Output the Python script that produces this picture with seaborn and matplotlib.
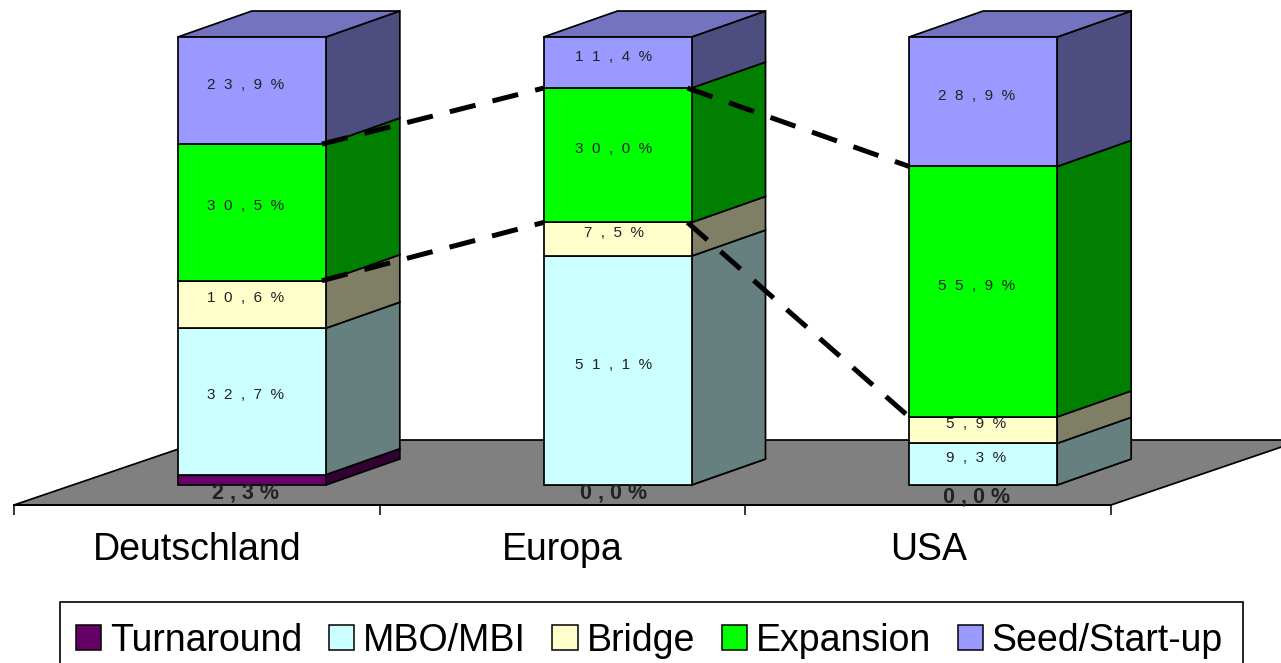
import matplotlib
matplotlib.use("Agg")
import matplotlib.pyplot as plt
from matplotlib.patches import Patch, Rectangle
import numpy as np
import pandas as pd
import seaborn as sns

# Werte aus dem Bild
laender = ["Deutschland", "Europa", "USA"]
serien = ["Turnaround", "MBO/MBI", "Bridge", "Expansion", "Seed/Start-up"]
turnaround = [2.3, 0.0, 0.0]
mbo_mbi = [32.7, 51.1, 9.3]
bridge = [10.6, 7.5, 5.9]
expansion = [30.5, 30.0, 55.9]
seed = [23.9, 11.4, 28.9]

farben = ["#660066", "#CCFFFF", "#FFFFCC", "#00FF00", "#9999FF"]
seiten = ["#330033", "#667F7F", "#7F7F66", "#007F00", "#4D4D7F"]
deckel = "#7373BF"

sns.set_theme(style="white")
plt.rcParams["font.family"] = ["Liberation Sans", "DejaVu Sans"]
plt.rcParams["text.color"] = "black"

B, H = 1281, 663
PX_X = 1097 / 3        # Pixel pro Kategorie
PX_Y = 4.48            # Pixel pro Prozentpunkt
KANTE = 1.25

fig = plt.figure(figsize=(B / 100, H / 100), dpi=100)
ax = fig.add_axes([14 / B, (H - 505) / H, 1097 / B, 505 / H])

# Saeulen stehen etwas hinter der Achse
pos = np.arange(3) + 55 / PX_X
breite = 148 / PX_X
tiefe_x, tiefe_y = 74 / PX_X, 26 / PX_Y
y_min, y_max = -20 / PX_Y, 485 / PX_Y

df = pd.DataFrame({"pos": pos, "Turnaround": turnaround, "MBO/MBI": mbo_mbi,
                   "Bridge": bridge, "Expansion": expansion, "Seed/Start-up": seed})

# Boden
boden_x, boden_y = 191 / PX_X, 65 / PX_Y
ax.fill([-0.5, 2.5, 2.5 + boden_x, -0.5 + boden_x],
        [y_min, y_min, y_min + boden_y, y_min + boden_y],
        facecolor="#808080", edgecolor="black", linewidth=KANTE, clip_on=False, zorder=1)

# Gestapelte Saeulen
unten = np.zeros(3)
for s, farbe, seite in zip(serien, farben, seiten):
    sns.barplot(data=df, x="pos", y=s, bottom=unten, native_scale=True, width=breite,
                color=farbe, saturation=1, edgecolor="black", linewidth=KANTE,
                errorbar=None, ax=ax, zorder=3, clip_on=False)
    oben = unten + df[s].values
    for p, u, o in zip(pos, unten, oben):
        r = p + breite / 2
        ax.fill([r, r + tiefe_x, r + tiefe_x, r], [u, u + tiefe_y, o + tiefe_y, o],
                facecolor=seite, edgecolor="black", linewidth=KANTE, clip_on=False, zorder=2.5)
    unten = oben

# Deckel
for p, o in zip(pos, unten):
    l, r = p - breite / 2, p + breite / 2
    ax.fill([l, r, r + tiefe_x, l + tiefe_x], [o, o, o + tiefe_y, o + tiefe_y],
            facecolor=deckel, edgecolor="black", linewidth=KANTE, clip_on=False, zorder=2.5)

# Verbindungslinien
kum_bridge = np.array(turnaround) + np.array(mbo_mbi) + np.array(bridge)
kum_expansion = kum_bridge + np.array(expansion)
for kum in [kum_bridge, kum_expansion]:
    for i in range(2):
        ax.plot([pos[i] + breite / 2 - 4 / PX_X, pos[i + 1] - breite / 2], [kum[i], kum[i + 1]],
                color="black", linewidth=3.6, dashes=(5.3, 3.5), dash_capstyle="butt",
                clip_on=False, zorder=5)

# Beschriftung der Segmente
def text_label(wert):
    return "  ".join(f"{wert:.1f}".replace(".", ",") + "%")

versatz = [-6, -4, -7]   # Pixel, je Saeule
unten = np.array(turnaround)
for werte in [mbo_mbi, bridge, expansion, seed]:
    for p, u, w, v in zip(pos, unten, werte, versatz):
        ax.annotate(text_label(w), (p, u + w / 2), xytext=(v * 0.72, 4.3), textcoords="offset points",
                    ha="center", va="center", fontsize=11, color="#222222", zorder=6)
    unten = unten + np.array(werte)

# Turnaround steht unter der Saeule
abstand = [13.5, 8.5, 12.5]
for p, w, a, v in zip(pos, turnaround, abstand, versatz):
    ax.annotate(" ".join(f"{w:.1f}".replace(".", ",") + "%"), (p, 0 if w == 0 else w / 2),
                xytext=(v * 0.72, -a * 0.72), textcoords="offset points", ha="center", va="center",
                fontsize=15.5, fontweight="bold", color="#222222", zorder=6)

# Achse
ax.set_xlim(-0.5, 2.5)
ax.set_ylim(y_min, y_max)
ax.set_xticks([-0.5, 0.5, 1.5, 2.5])
ax.set_xticklabels([])
ax.set_xticks([0, 1, 2], laender, minor=True)
ax.tick_params(axis="x", which="major", length=7.2, width=1.1, color="black", bottom=True)
ax.tick_params(axis="x", which="minor", length=0, pad=19.3, labelsize=27, labelcolor="black")
ax.set_yticks([])
ax.set_xlabel("")
ax.set_ylabel("")
ax.patch.set_visible(False)
for seite in ["top", "left", "right"]:
    ax.spines[seite].set_visible(False)
ax.spines["bottom"].set_color("black")
ax.spines["bottom"].set_linewidth(1.4)

# Legende: Rahmen extra, unten vom Bildrand abgeschnitten
fig.add_artist(Rectangle((60 / B, -0.02), (1243 - 60) / B, (H - 602) / H + 0.02, transform=fig.transFigure,
                         facecolor="white", edgecolor="black", linewidth=1.2, zorder=4))
griffe = [Patch(facecolor=f, edgecolor="black", linewidth=1.1, label=s) for f, s in zip(farben, serien)]
leg = fig.legend(handles=griffe, ncol=5, loc="upper left", bbox_to_anchor=(60 / B, (H - 607) / H),
                 bbox_transform=fig.transFigure, fontsize=27, frameon=False, labelcolor="black",
                 handlelength=0.67, handleheight=0.67, handletextpad=0.24, columnspacing=0.71,
                 borderpad=0.42, borderaxespad=0)
leg.set_zorder(5)

fig.savefig("out.png", dpi=100)
